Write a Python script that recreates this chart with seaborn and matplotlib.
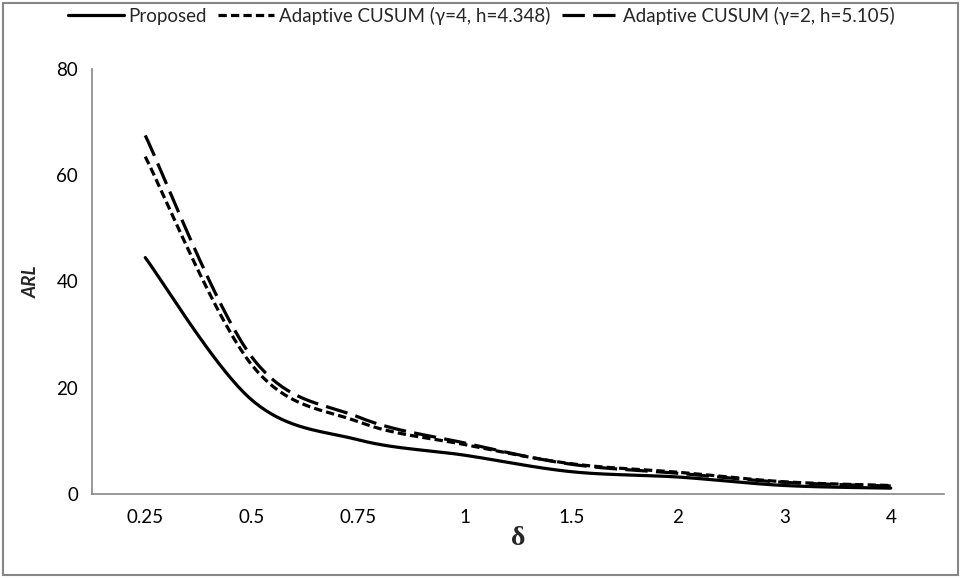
import numpy as np
import pandas as pd
import matplotlib
matplotlib.use("Agg")
import matplotlib.pyplot as plt
from matplotlib.patches import Rectangle
import seaborn as sns

# ---- data ----
categories = ["0.25", "0.5", "0.75", "1", "1.5", "2", "3", "4"]
proposed = [44.5, 17.7, 10.2, 7.3, 4.2, 3.2, 1.6, 1.1]
cusum_g4 = [63.5, 24.3, 13.6, 9.3, 5.7, 4.1, 2.3, 1.6]
cusum_g2 = [67.5, 25.8, 14.5, 9.6, 5.6, 3.9, 2.2, 1.5]
series_names = ["Proposed", "Adaptive CUSUM (γ=4, h=4.348)", "Adaptive CUSUM (γ=2, h=5.105)"]
y_ticks = [0, 20, 40, 60, 80]


def excel_smooth(xs, ys, n=40):
    """Excel-style smoothed line (Bezier through the data points)."""
    P = np.column_stack([xs, ys]).astype(float)
    out = []
    m = len(P)
    t = np.linspace(0, 1, n)[:, None]
    for i in range(m - 1):
        p0 = P[i - 1] if i > 0 else P[i]
        p3 = P[i + 2] if i + 2 < m else P[i + 1]
        c1 = P[i] + (P[i + 1] - p0) / 6.0
        c2 = P[i + 1] - (p3 - P[i]) / 6.0
        seg = ((1 - t) ** 3) * P[i] + 3 * ((1 - t) ** 2) * t * c1 + 3 * (1 - t) * t ** 2 * c2 + t ** 3 * P[i + 1]
        if i > 0:
            seg = seg[1:]
        out.append(seg)
    return np.vstack(out)


frames = []
for name, vals in zip(series_names, [proposed, cusum_g4, cusum_g2]):
    pts = excel_smooth(np.arange(len(categories)), vals)
    frames.append(pd.DataFrame({"x": pts[:, 0], "y": pts[:, 1], "series": name}))
df = pd.concat(frames, ignore_index=True)

sns.set_theme(style="white")
plt.rcParams["font.family"] = ["Lato", "DejaVu Sans"]

fig = plt.figure(figsize=(9.62, 5.78), dpi=100)
ax = fig.add_axes([92 / 962, 1 - 494 / 578, (944 - 92) / 962, (494 - 69) / 578])

sns.lineplot(
    data=df, x="x", y="y", hue="series", style="series",
    hue_order=series_names, style_order=series_names,
    palette=["black"] * 3,
    dashes={series_names[0]: "", series_names[1]: (2.6, 1.3), series_names[2]: (7, 2.6)},
    sort=False, estimator=None, linewidth=2.3, ax=ax,
)

grey = "#868686"
ax.set_xlim(-0.5, len(categories) - 0.5)
ax.set_ylim(0, 80)
ax.set_xticks(range(len(categories)))
ax.set_xticklabels(categories)
ax.set_xticks(np.arange(-0.5, len(categories), 1.0), minor=True)
ax.set_yticks(y_ticks)
ax.set_yticks([10, 30, 50, 70], minor=True)
ax.tick_params(axis="both", which="both", direction="inout", length=8, width=1,
               color=grey, labelsize=13.5, labelcolor="black")
ax.tick_params(axis="x", which="major", pad=7)
ax.tick_params(axis="y", which="major", pad=6)
for s in ["top", "right"]:
    ax.spines[s].set_visible(False)
for s in ["left", "bottom"]:
    ax.spines[s].set_color(grey)
    ax.spines[s].set_linewidth(1.2)

ax.set_xlabel("δ", fontsize=20, fontweight="bold", family=["Liberation Serif", "DejaVu Serif"], labelpad=0)
ax.set_ylabel("ARL", fontsize=13.5, fontweight="bold", fontstyle="italic", labelpad=12)

handles, labels = ax.get_legend_handles_labels()
ax.legend(handles, labels, ncol=3, loc="center", bbox_to_anchor=(0.5, 1 - 16 / 578), bbox_transform=fig.transFigure,
          frameon=False, fontsize=13.5, handlelength=3.0, handletextpad=0.25, columnspacing=0.6)

fig.patches.append(Rectangle((3 / 962, 3 / 578), 955 / 962, 572 / 578, transform=fig.transFigure,
                             fill=False, edgecolor=grey, linewidth=1.5))

fig.savefig("out.png", dpi=100)
